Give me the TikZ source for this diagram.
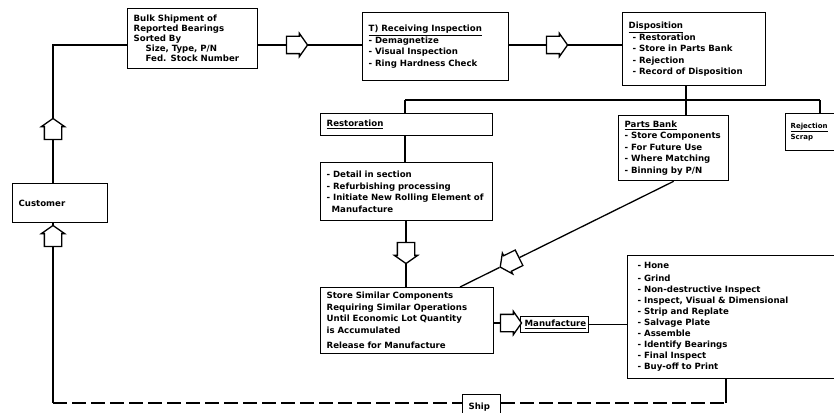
\documentclass[tikz,border=0pt]{standalone}
\usepackage{fontspec}
\setmainfont{DejaVu Sans}
\usetikzlibrary{shapes.arrows}

\begin{document}
\begin{tikzpicture}[x=1pt,y=-1pt,line width=1.3pt]
    \tikzstyle{every node}+=[inner sep=0pt]
    \tikzstyle{box}=[draw, anchor=north west, align=left, inner xsep=6pt, font=\fontsize{8.6}{11.5}\selectfont\bfseries]
    \tikzstyle{harrow}=[draw, fill=white, single arrow, inner xsep=0pt, inner ysep=8pt, minimum height=21, minimum width=0, single arrow head extend=3pt, single arrow head indent=0pt, single arrow tip angle=110]
    \useasboundingbox (0,0) rectangle (834,412);
    \node [box, text width=118, minimum height=60, font=\fontsize{8.6}{10}\selectfont\bfseries] (bulk) at (127,8) {Bulk Shipment of\\Reported Bearings\\Sorted By\\\hspace*{12pt}Size, Type, P/N\\\hspace*{12pt}Fed. Stock Number};
    \node [box, text width=134, minimum height=68] (recv) at (362,12) {\underline{T) Receiving Inspection}\\- Demagnetize\\- Visual Inspection\\- Ring Hardness Check};
    \node [box, text width=131, minimum height=73] (disp) at (622,12) {\underline{Disposition}\\\hspace*{4pt}- Restoration\\\hspace*{4pt}- Store in Parts Bank\\\hspace*{4pt}- Rejection\\\hspace*{4pt}- Record of Disposition};
    \node [box, text width=160, minimum height=22] (rest) at (320,113) {\underline{Restoration}};
    \node [box, text width=160, minimum height=58] (detail) at (320,162) {- Detail in section\\- Refurbishing processing\\- Initiate New Rolling Element of\\\hspace*{5pt}Manufacture};
    \node [box, text width=98, minimum height=65] (bank) at (618,115) {\underline{Parts Bank}\\- Store Components\\- For Future Use\\- Where Matching\\- Binning by P/N};
    \node [box, text width=58, minimum height=37, inner xsep=5pt, font=\fontsize{7}{11}\selectfont\bfseries] (scrap) at (785,113) {\underline{Rejection}\\Scrap};
    \node [box, text width=83, minimum height=39] (cust) at (12,183) {Customer};
    \node [box, text width=161, minimum height=66] (store) at (320,287) {Store Similar Components\\Requiring Similar Operations\\Until Economic Lot Quantity\\is Accumulated\\[4pt]Release for Manufacture};
    \node [box, text width=60, minimum height=16, inner xsep=4pt] (manu) at (520,316) {\underline{Manufacture}};
    \node [box, text width=218, minimum height=123, inner xsep=10pt, font=\fontsize{8.6}{11}\selectfont\bfseries] (mfg) at (627,255) {- Hone\\[2pt]- Grind\\- Non-destructive Inspect\\- Inspect, Visual \& Dimensional\\- Strip and Replate\\- Salvage Plate\\- Assemble\\- Identify Bearings\\- Final Inspect\\- Buy-off to Print};
    \node [box, text width=26, minimum height=25] (ship) at (462,394) {Ship};
    \node [harrow] (a1) at (294,45) {};
    \node [harrow] (a2) at (554,45) {};
    \node [harrow, rotate=90] (a3) at (53,132) {};
    \node [harrow, rotate=90] (a4) at (53,239) {};
    \node [harrow, rotate=-90] (a5) at (406,250) {};
    \node [harrow] (a7) at (508,323) {};
    \coordinate (bl) at (53,403);
    \coordinate (br) at (726,403);
    \coordinate (bar1) at (405,100);
    \coordinate (bar2) at (820,100);
    \coordinate (barm) at (686,100);
    \coordinate (dg) at (460,287);
    \path (bank.south) -- node [harrow, pos=0.755, sloped, allow upside down] (a6) {} (dg);
    \draw (a1.tail -| bulk.east) -- (a1.tail);
    \draw (a1.tip) -- (a1.tip -| recv.west);
    \draw (a2.tail -| recv.east) -- (a2.tail);
    \draw (a2.tip) -- (a2.tip -| disp.west);
    \draw (cust.north -| a3.tail) -- (a3.tail);
    \draw (a3.tip) |- (a1.tail -| bulk.west);
    \draw (cust.south -| a4.tip) -- (a4.tip);
    \draw (a4.tail) -- (bl);
    \draw [dash pattern=on 14pt off 5pt] (bl) -- (bl -| ship.west);
    \draw [dash pattern=on 14pt off 5pt] (bl -| ship.east) -- (br);
    \draw (br) -- (br |- mfg.south);
    \draw (disp.south -| barm) -- (barm |- bank.north);
    \draw (bar1) -- (bar2);
    \draw (bar1) -- (bar1 |- rest.north);
    \draw (bar2) -- (bar2 |- scrap.north);
    \draw (rest.south -| bar1) -- (detail.north -| bar1);
    \draw (detail.south -| a5.tail) -- (a5.tail);
    \draw (a5.tip) -- (a5.tip |- store.north);
    \draw (bank.south) -- (a6.tail);
    \draw (a6.tip) -- (dg);
    \draw (a7.tail -| store.east) -- (a7.tail);
    \draw (manu.east) -- (manu.east -| mfg.west);
\end{tikzpicture}
\end{document}
